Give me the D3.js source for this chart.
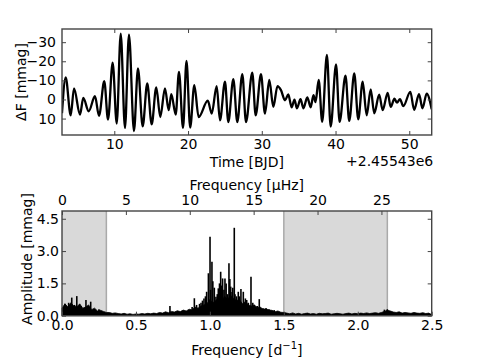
<!DOCTYPE html>
<html>
<head>
<meta charset="utf-8">
<script src="https://cdn.jsdelivr.net/npm/d3@7/dist/d3.min.js"></script>
<style>
  body { margin: 0; background: #fff; }
  text { font-family: "DejaVu Sans", sans-serif; font-size: 14px; fill: #000; }
</style>
</head>
<body>
<svg id="chart" width="480" height="362"></svg>
<script>
// light curve extrema (time offset from 2455430 BJD, delta flux in mmag)
const lcTime = [2.91, 3.41, 4.09, 4.54, 5.35, 5.80, 6.53, 7.38, 7.93, 8.64, 9.15, 9.78, 10.33, 10.87,
  11.45, 11.99, 12.67, 13.21, 13.85, 14.47, 15.07, 15.69, 16.24, 16.87, 17.38, 17.73, 18.33, 18.77,
  19.32, 19.79, 20.29, 20.85, 21.44, 22.68, 23.21, 23.88, 24.33, 25.01, 25.46, 26.14, 26.68, 27.36,
  27.86, 28.71, 29.17, 29.89, 30.43, 31.02, 31.56, 32.13, 32.60, 33.15, 33.59, 34.05, 34.43, 34.77,
  35.25, 35.65, 36.17, 36.63, 37.01, 37.28, 37.72, 38.19, 38.83, 39.34, 40.07, 40.55, 41.35, 41.86,
  42.54, 43.08, 43.68, 44.22, 44.77, 45.25, 45.92, 46.39, 47.07, 47.48, 47.99, 48.33, 48.74, 49.19,
  50.14, 50.66, 51.32, 51.79, 52.36, 53.04]
const lcFlux = [7.2, -11.6, 8.3, -5.8, 7.9, -0.8, 6.2, -1.7, 8.6, -9.6, 10.5, -19.3, 12.6, -34.4,
  14.9, -34.0, 16.5, -16.3, 14.1, -8.4, 13.0, -6.3, 9.2, -5.8, 5.6, -2.8, 7.9, -14.5,
  14.9, -20.2, 14.7, -7.5, 9.2, 0.6, 7.4, -7.0, 10.9, -9.3, 11.8, -10.7, 11.8, -13.2,
  11.8, -14.0, 8.3, -13.2, 7.4, -10.2, 3.9, -7.0, -4.9, 0.4, -2.6, 4.1, 0.1, 4.6,
  -0.2, 4.6, -1.1, 4.1, -2.3, 1.4, -10.2, 11.7, -23.3, 14.2, -18.3, 11.7, -12.5, 11.2,
  -13.7, 10.4, -9.3, 8.3, -5.3, 7.2, -2.5, 5.6, -3.5, 3.9, -0.4, 1.7, -0.2, 3.5,
  -4.0, 5.4, -2.8, 4.6, -3.1, 5.1]
const timeTicks = [10, 20, 30, 40, 50]
const fluxTicks = [-30, -20, -10, 0, 10]

// amplitude spectrum: noise floor sampled every 0.02 d^-1 from 0, plus the individual peaks
const specStep = 0.02
const specFloor = [0.35, 0.55, 0.4, 0.6, 0.45, 0.4, 0.55, 0.35, 0.4, 0.5, 0.28, 0.35, 0.22, 0.25, 0.2, 0.15,
  0.15, 0.11, 0.13, 0.1, 0.08, 0.11, 0.07, 0.09, 0.06, 0.08, 0.07, 0.1, 0.08, 0.11, 0.09,
  0.12, 0.1, 0.15, 0.12, 0.18, 0.14, 0.2, 0.17, 0.23, 0.19, 0.26, 0.22, 0.3, 0.27,
  0.4, 0.35, 0.45, 0.5, 0.55, 0.75, 0.6, 0.7, 0.85, 0.65, 0.9, 0.75, 0.95, 0.8, 0.7, 0.75, 0.55, 0.65,
  0.5, 0.45, 0.5, 0.38, 0.4, 0.3, 0.32, 0.26,
  0.25, 0.18, 0.22, 0.16, 0.15,
  0.12, 0.09, 0.13, 0.08, 0.11, 0.07, 0.1, 0.12, 0.08, 0.1, 0.07, 0.11, 0.09, 0.1, 0.12, 0.07, 0.09,
  0.11, 0.09, 0.07, 0.1, 0.12, 0.08, 0.11, 0.09, 0.12, 0.1, 0.13, 0.1, 0.12, 0.14, 0.11, 0.15, 0.2, 0.25,
  0.22, 0.17, 0.15, 0.18, 0.12, 0.15, 0.13, 0.11, 0.15, 0.12, 0.11, 0.14, 0.1, 0.12, 0.05]
const peakFreq = [0.02, 0.045, 0.066, 0.085, 0.10, 0.13, 0.162, 0.194, 0.25, 0.73, 0.88, 0.895, 0.91,
  0.93, 0.94, 0.95, 0.96, 0.97, 0.978, 0.99, 1.001, 1.005, 1.014, 1.02, 1.03, 1.041, 1.05, 1.057,
  1.065, 1.073, 1.08, 1.086, 1.095, 1.102, 1.11, 1.12, 1.129, 1.135, 1.141, 1.15, 1.155, 1.165,
  1.17, 1.18, 1.192, 1.2, 1.21, 1.226, 1.24, 1.249, 1.26, 1.278, 1.29, 1.30, 1.32, 1.334, 1.36,
  1.38, 1.40, 1.435, 2.18, 2.20]
const peakAmp = [0.55, 0.6, 0.84, 0.5, 0.91, 0.45, 0.73, 0.65, 0.3, 0.45, 0.4, 0.81, 0.5,
  0.55, 0.6, 0.7, 0.8, 0.9, 1.11, 1.97, 3.67, 1.2, 2.5, 1.6, 1.3, 0.88, 1.0, 1.27,
  1.5, 2.04, 1.4, 1.73, 1.2, 1.73, 1.5, 1.0, 2.43, 1.7, 1.35, 1.1, 1.3, 4.08,
  1.0, 0.9, 1.11, 0.9, 1.24, 1.11, 0.8, 0.73, 0.6, 1.81, 0.6, 0.5, 0.45, 0.77, 0.35,
  0.35, 0.3, 0.26, 0.28, 0.3]
const freqTicks = [0, 0.5, 1.0, 1.5, 2.0, 2.5]
const uhzTicks = [0, 5, 10, 15, 20, 25]
const ampTicks = [0, 1.5, 3.0, 4.5]
const masked = [[0, 0.3], [1.5, 2.2]]

const UHZ_PER_CPD = 11.574
const svg = d3.select('#chart')
const left = 62, right = 431.7

// ---------- top panel ----------
const top1 = 29, bot1 = 135
const xT = d3.scaleLinear().domain([2.91, 53.04]).range([left, right])
const yT = d3.scaleLinear().domain([-36.9, 18.6]).range([top1, bot1])

svg.append('clipPath').attr('id', 'clip1')
  .append('rect').attr('x', left).attr('y', top1).attr('width', right - left).attr('height', bot1 - top1)

let lc = lcTime.map((t, i) => [t, lcFlux[i]])
svg.append('path')
  .attr('clip-path', 'url(#clip1)')
  .attr('d', d3.line().x(d => xT(d[0])).y(d => yT(d[1])).curve(d3.curveMonotoneX)(lc))
  .attr('fill', 'none').attr('stroke', '#000').attr('stroke-width', 2.3)

function styleAxis (g, noLabels) {
  g.select('.domain').remove()
  g.selectAll('line').attr('stroke', '#444').attr('stroke-width', 1)
  g.selectAll('text').attr('font-size', null).attr('font-family', null).attr('fill', '#000')
  if (noLabels) g.selectAll('text').remove()
}

svg.append('g').attr('transform', `translate(0,${bot1})`)
  .call(d3.axisBottom(xT).tickValues(timeTicks).tickSize(-4).tickPadding(4.5).tickFormat(d3.format('d')))
  .call(g => styleAxis(g))
svg.append('g').attr('transform', `translate(0,${top1})`)
  .call(d3.axisTop(xT).tickValues(timeTicks).tickSize(-4))
  .call(g => styleAxis(g, true))
svg.append('g').attr('transform', `translate(${left},0)`)
  .call(d3.axisLeft(yT).tickValues(fluxTicks).tickSize(-4).tickPadding(6).tickFormat(d3.format('d')))
  .call(g => styleAxis(g))
svg.append('g').attr('transform', `translate(${right},0)`)
  .call(d3.axisRight(yT).tickValues(fluxTicks).tickSize(-4))
  .call(g => styleAxis(g, true))

svg.append('rect').attr('x', left).attr('y', top1).attr('width', right - left).attr('height', bot1 - top1)
  .attr('fill', 'none').attr('stroke', '#444').attr('stroke-width', 1.4)

svg.append('text').attr('x', (left + right) / 2).attr('y', 166.5).attr('text-anchor', 'middle').text('Time [BJD]')
svg.append('text').attr('x', right + 1.5).attr('y', 165.5).attr('text-anchor', 'end').text('+2.45543e6')
svg.append('text').attr('transform', `translate(25.5,${(top1 + bot1) / 2}) rotate(-90)`)
  .attr('text-anchor', 'middle').text('ΔF [mmag]')

// ---------- bottom panel ----------
const top2 = 211, bot2 = 315.7
const xF = d3.scaleLinear().domain([0, 2.5]).range([left, right])
const xU = d3.scaleLinear().domain([0, 2.5 * UHZ_PER_CPD]).range([left, right])
const yA = d3.scaleLinear().domain([0, 4.86]).range([bot2, top2])

svg.selectAll('rect.mask').data(masked).enter().append('rect')
  .attr('class', 'mask')
  .attr('x', d => xF(d[0])).attr('y', top2)
  .attr('width', d => xF(d[1]) - xF(d[0])).attr('height', bot2 - top2)
  .attr('fill', '#d9d9d9')
svg.selectAll('line.maskedge').data(masked.flat().filter(v => v > 0)).enter().append('line')
  .attr('class', 'maskedge')
  .attr('x1', d => xF(d)).attr('x2', d => xF(d)).attr('y1', top2).attr('y2', bot2)
  .attr('stroke', '#aaa').attr('stroke-width', 1.5)

let floor = specFloor.map((a, i) => [i * specStep, a])
svg.append('path')
  .attr('d', d3.area().x(d => xF(d[0])).y0(bot2).y1(d => yA(d[1]))(floor))
  .attr('fill', '#000').attr('stroke', '#000').attr('stroke-width', 0.8)

svg.selectAll('line.peak').data(peakFreq.map((f, i) => [f, peakAmp[i]])).enter().append('line')
  .attr('class', 'peak')
  .attr('x1', d => xF(d[0])).attr('x2', d => xF(d[0]))
  .attr('y1', bot2).attr('y2', d => yA(d[1]))
  .attr('stroke', '#000').attr('stroke-width', 1.6)

svg.append('g').attr('transform', `translate(0,${bot2})`)
  .call(d3.axisBottom(xF).tickValues(freqTicks).tickSize(-4).tickPadding(4.5).tickFormat(d3.format('.1f')))
  .call(g => styleAxis(g))
svg.append('g').attr('transform', `translate(0,${top2})`)
  .call(d3.axisTop(xU).tickValues(uhzTicks).tickSize(-4).tickPadding(6).tickFormat(d3.format('d')))
  .call(g => styleAxis(g))
svg.append('g').attr('transform', `translate(${left},0)`)
  .call(d3.axisLeft(yA).tickValues(ampTicks).tickSize(-4).tickPadding(3).tickFormat(d3.format('.1f')))
  .call(g => styleAxis(g))
svg.append('g').attr('transform', `translate(${right},0)`)
  .call(d3.axisRight(yA).tickValues(ampTicks).tickSize(-4))
  .call(g => styleAxis(g, true))

svg.append('rect').attr('x', left).attr('y', top2).attr('width', right - left).attr('height', bot2 - top2)
  .attr('fill', 'none').attr('stroke', '#444').attr('stroke-width', 1.4)

svg.append('text').attr('x', (left + right) / 2).attr('y', 190).attr('text-anchor', 'middle').text('Frequency [μHz]')
let fl = svg.append('text').attr('x', (left + right) / 2).attr('y', 354.5).attr('text-anchor', 'middle')
fl.append('tspan').text('Frequency [d')
fl.append('tspan').attr('dy', -5.5).attr('font-size', '10px').text('−1')
fl.append('tspan').attr('dy', 5.5).text(']')
svg.append('text').attr('transform', 'translate(31.5,259) rotate(-90)')
  .attr('text-anchor', 'middle').text('Amplitude [mmag]')
</script>
</body>
</html>
